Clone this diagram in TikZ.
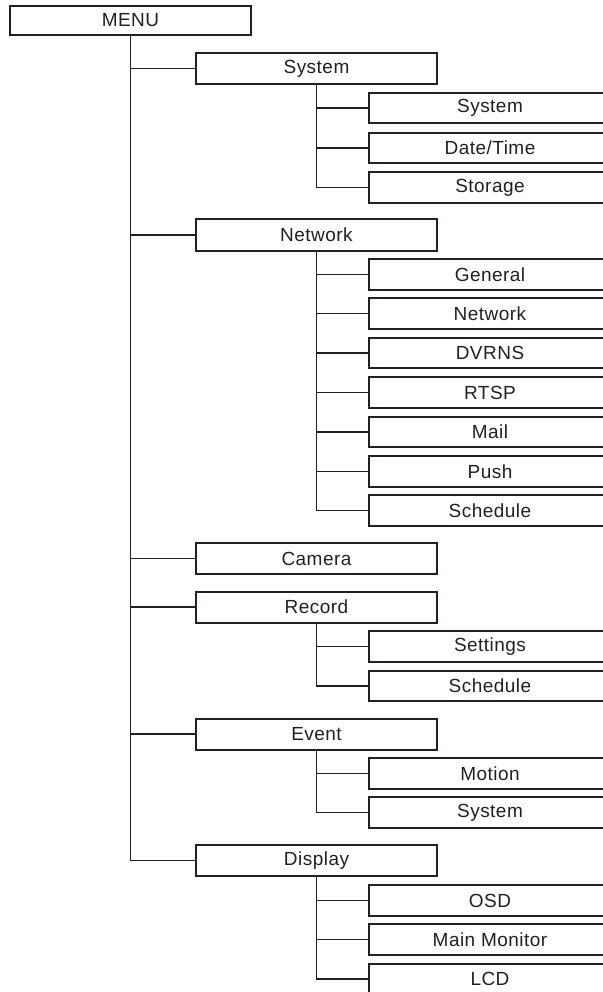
\documentclass[tikz,border=0pt]{standalone}
\usepackage{fontspec}
\setmainfont[LetterSpace=2.5]{Liberation Sans}
\definecolor{ink}{HTML}{231F20}
\begin{document}
\begin{tikzpicture}[x=1pt,y=-1pt,
  box/.style={draw=ink,line width=2pt,minimum height=30.5pt,inner sep=0pt,font=\fontsize{19}{21}\selectfont,text=ink},
  topbox/.style={box,minimum width=241pt,minimum height=29pt},
  lvone/.style={box,minimum width=241pt,minimum height=31pt},
  lvtwo/.style={box,minimum width=242pt},
  link/.style={draw=ink,line width=1.7pt}]
\useasboundingbox (0,0) rectangle (602,992);
\node[topbox] (menu) at (130.5,20.5) {MENU};
% level one
\node[lvone] (sys) at (316.5,68.5) {System};
\node[lvone] (net) at (316.5,235) {Network};
\node[lvone] (cam) at (316.5,558.5) {Camera};
\node[lvone] (rec) at (316.5,607) {Record};
\node[lvone] (evt) at (316.5,734) {Event};
\node[lvone] (dsp) at (316.5,860.5) {Display};
% level two
\node[lvtwo] (sysa) at (490,108) {System};
\node[lvtwo] (sysb) at (490,148) {Date/Time};
\node[lvtwo] (sysc) at (490,187.5) {Storage};
\node[lvtwo] (neta) at (490,274.5) {General};
\node[lvtwo] (netb) at (490,313.5) {Network};
\node[lvtwo] (netc) at (490,353) {DVRNS};
\node[lvtwo] (netd) at (490,392.5) {RTSP};
\node[lvtwo] (nete) at (490,432) {Mail};
\node[lvtwo] (netf) at (490,471.5) {Push};
\node[lvtwo] (netg) at (490,510.5) {Schedule};
\node[lvtwo] (reca) at (490,646.5) {Settings};
\node[lvtwo] (recb) at (490,686) {Schedule};
\node[lvtwo] (evta) at (490,773.5) {Motion};
\node[lvtwo] (evtb) at (490,812.5) {System};
\node[lvtwo] (dspa) at (490,900.5) {OSD};
\node[lvtwo] (dspb) at (490,939.5) {Main Monitor};
\node[lvtwo] (dspc) at (490,979) {LCD};
% main trunk
\draw[link] (menu.south) |- (dsp.west);
\foreach \n in {sys,net,cam,rec,evt}
  \draw[link] (menu.south |- \n.west) -- (\n.west);
% sub trunks
\draw[link] (sys.south) |- (sysc.west);
\foreach \n in {sysa,sysb} \draw[link] (sys.south |- \n.west) -- (\n.west);
\draw[link] (net.south) |- (netg.west);
\foreach \n in {neta,netb,netc,netd,nete,netf} \draw[link] (net.south |- \n.west) -- (\n.west);
\draw[link] (rec.south) |- (recb.west);
\draw[link] (rec.south |- reca.west) -- (reca.west);
\draw[link] (evt.south) |- (evtb.west);
\draw[link] (evt.south |- evta.west) -- (evta.west);
\draw[link] (dsp.south) |- (dspc.west);
\foreach \n in {dspa,dspb} \draw[link] (dsp.south |- \n.west) -- (\n.west);
\end{tikzpicture}
\end{document}
